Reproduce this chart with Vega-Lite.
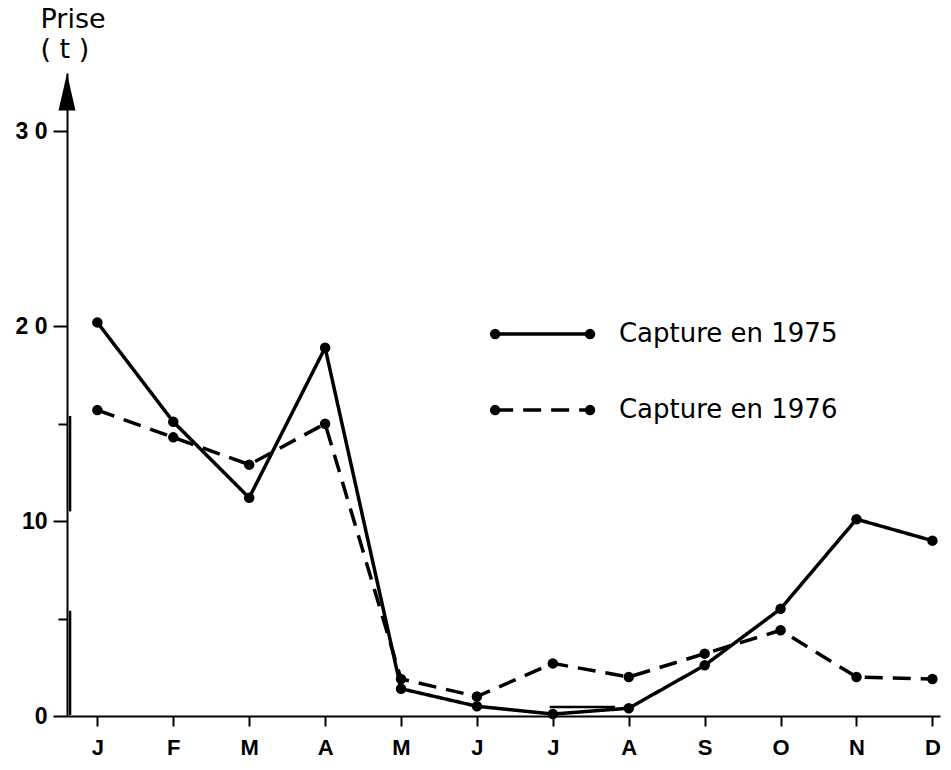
{
  "$schema": "https://vega.github.io/schema/vega-lite/v6.json",
  "width": 873,
  "height": 643,
  "autosize": "none",
  "padding": {"left": 67, "top": 73, "right": 11, "bottom": 54},
  "background": "white",
  "config": {"view": {"stroke": null}, "font": "Liberation Sans"},
  "datasets": {
    "main": [
      {"month": 1, "series": "1975", "prise": 20.2},
      {"month": 2, "series": "1975", "prise": 15.1},
      {"month": 3, "series": "1975", "prise": 11.2},
      {"month": 4, "series": "1975", "prise": 18.9},
      {"month": 5, "series": "1975", "prise": 1.4},
      {"month": 6, "series": "1975", "prise": 0.5},
      {"month": 7, "series": "1975", "prise": 0.1},
      {"month": 8, "series": "1975", "prise": 0.4},
      {"month": 9, "series": "1975", "prise": 2.6},
      {"month": 10, "series": "1975", "prise": 5.5},
      {"month": 11, "series": "1975", "prise": 10.1},
      {"month": 12, "series": "1975", "prise": 9.0},
      {"month": 1, "series": "1976", "prise": 15.7},
      {"month": 2, "series": "1976", "prise": 14.3},
      {"month": 3, "series": "1976", "prise": 12.9},
      {"month": 4, "series": "1976", "prise": 15.0},
      {"month": 5, "series": "1976", "prise": 1.9},
      {"month": 6, "series": "1976", "prise": 1.0},
      {"month": 7, "series": "1976", "prise": 2.7},
      {"month": 8, "series": "1976", "prise": 2.0},
      {"month": 9, "series": "1976", "prise": 3.2},
      {"month": 10, "series": "1976", "prise": 4.4},
      {"month": 11, "series": "1976", "prise": 2.0},
      {"month": 12, "series": "1976", "prise": 1.9}
    ],
    "legendLines": [
      {"lx": 6.24, "ly": 19.6, "series": "1975"},
      {"lx": 7.49, "ly": 19.6, "series": "1975"},
      {"lx": 6.24, "ly": 15.7, "series": "1976"},
      {"lx": 7.49, "ly": 15.7, "series": "1976"}
    ],
    "legendText": [
      {"lx": 7.87, "ly": 19.6, "label": "Capture en 1975"},
      {"lx": 7.87, "ly": 15.7, "label": "Capture en 1976"}
    ],
    "arrow": [{"ax": 0.6, "ay": 32.03}],
    "marks": [
      {"x1": 0.64, "x2": 0.64, "y1": 10.5, "y2": 15.4},
      {"x1": 0.64, "x2": 0.64, "y1": 0.05, "y2": 5.4},
      {"x1": 6.96, "x2": 7.82, "y1": 0.46, "y2": 0.46}
    ]
  },
  "layer": [
    {
      "data": {"name": "main"},
      "mark": {"type": "line", "color": "black", "strokeWidth": 3.5},
      "encoding": {
        "x": {
          "field": "month", "type": "quantitative",
          "scale": {"domain": [0.6, 12.1], "nice": false, "zero": false},
          "axis": {
            "values": [1,2,3,4,5,6,7,8,9,10,11,12],
            "labelExpr": "substring('JFMAMJJASOND', datum.value-1, datum.value)",
            "title": null, "grid": false,
            "domainColor": "black", "domainWidth": 2,
            "tickColor": "black", "tickWidth": 2, "tickSize": 10,
            "labelFontSize": 22, "labelColor": "black", "labelPadding": 11,
            "labelFont": "Liberation Sans", "labelFontWeight": "bold"
          }
        },
        "y": {
          "field": "prise", "type": "quantitative",
          "scale": {"domain": [0, 33], "nice": false},
          "axis": {
            "values": [0, 5, 10, 15, 20, 30],
            "labelExpr": "datum.value == 30 ? '3 0' : datum.value == 20 ? '2 0' : datum.value == 10 ? '10' : datum.value == 0 ? '0' : ''",
            "title": ["Prise", "( t )"],
            "titleAngle": 0, "titleX": -27, "titleY": -40, "titleAlign": "left",
            "titleFontSize": 27, "titleFontWeight": "normal", "titleColor": "black", "titleLineHeight": 30,
            "titleFont": "DejaVu Sans",
            "grid": false,
            "domainColor": "black", "domainWidth": 2,
            "tickColor": "black", "tickWidth": 2,
            "tickSize": {"condition": {"test": "datum.value % 10 == 5", "value": 9}, "value": 14},
            "labelFontSize": 23, "labelColor": "black", "labelPadding": 6,
            "labelFont": "Liberation Sans", "labelFontWeight": "bold"
          }
        },
        "strokeDash": {
          "field": "series", "type": "nominal",
          "scale": {"domain": ["1975", "1976"], "range": [[1, 0], [18, 10]]},
          "legend": null
        }
      }
    },
    {
      "data": {"name": "main"},
      "mark": {"type": "point", "filled": true, "color": "black", "size": 110, "opacity": 1},
      "encoding": {
        "x": {"field": "month", "type": "quantitative"},
        "y": {"field": "prise", "type": "quantitative"}
      }
    },
    {
      "data": {"name": "legendLines"},
      "mark": {"type": "line", "color": "black", "strokeWidth": 3.5},
      "encoding": {
        "x": {"field": "lx", "type": "quantitative"},
        "y": {"field": "ly", "type": "quantitative"},
        "strokeDash": {"field": "series", "type": "nominal", "legend": null}
      }
    },
    {
      "data": {"name": "legendLines"},
      "mark": {"type": "point", "filled": true, "color": "black", "size": 110, "opacity": 1},
      "encoding": {
        "x": {"field": "lx", "type": "quantitative"},
        "y": {"field": "ly", "type": "quantitative"}
      }
    },
    {
      "data": {"name": "legendText"},
      "mark": {"type": "text", "align": "left", "baseline": "middle", "fontSize": 26, "font": "DejaVu Sans", "color": "black"},
      "encoding": {
        "x": {"field": "lx", "type": "quantitative"},
        "y": {"field": "ly", "type": "quantitative"},
        "text": {"field": "label"}
      }
    },
    {
      "data": {"name": "arrow"},
      "mark": {"type": "point", "filled": true, "color": "black", "opacity": 1, "size": 1369, "shape": "M0,-1L0.46,1L-0.46,1Z"},
      "encoding": {
        "x": {"field": "ax", "type": "quantitative"},
        "y": {"field": "ay", "type": "quantitative"}
      }
    },
    {
      "data": {"name": "marks"},
      "mark": {"type": "rule", "color": "black", "strokeWidth": 2.5},
      "encoding": {
        "x": {"field": "x1", "type": "quantitative"},
        "x2": {"field": "x2"},
        "y": {"field": "y1", "type": "quantitative"},
        "y2": {"field": "y2"}
      }
    }
  ]
}
